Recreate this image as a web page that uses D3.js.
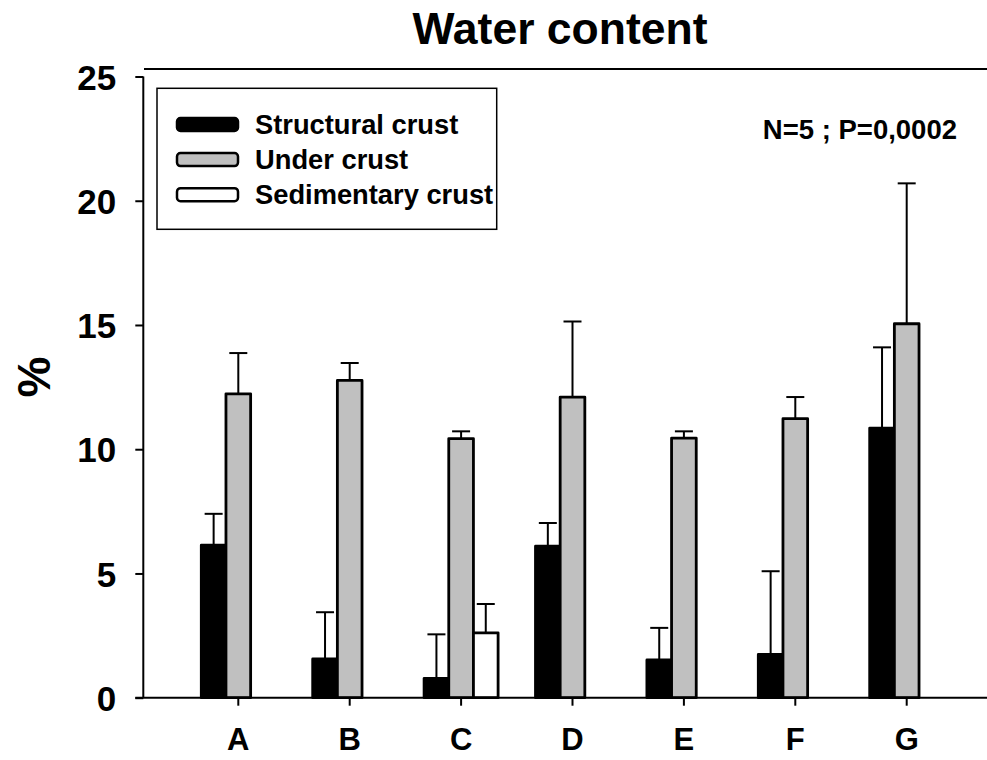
<!DOCTYPE html>
<html>
<head>
<meta charset="utf-8">
<script src="https://cdn.jsdelivr.net/npm/d3@7"></script>
<style>
  html, body { margin: 0; padding: 0; background: #fff; }
  svg text { font-family: "Liberation Sans", Arial, sans-serif; font-weight: bold; fill: #000; }
</style>
</head>
<body>
<svg id="chart" width="987" height="760"></svg>
<script>
// ---- Data ----
const categories = ["A", "B", "C", "D", "E", "F", "G"];
const seriesNames = ["Structural crust", "Under crust", "Sedimentary crust"];
const structuralCrust    = [6.14, 1.56, 0.78, 6.10, 1.52, 1.74, 10.85];
const structuralCrustErr = [7.40, 3.44, 2.55, 7.03, 2.81, 5.09, 14.10];
const underCrust         = [12.23, 12.77, 10.43, 12.10, 10.45, 11.23, 15.05];
const underCrustErr      = [13.87, 13.47, 10.72, 15.14, 10.72, 12.10, 20.70];
const sedimentaryCrust    = [null, null, 2.61, null, null, null, null];
const sedimentaryCrustErr = [null, null, 3.77, null, null, null, null];
const yTicks = [0, 5, 10, 15, 20, 25];
const seriesColors = ["#000000", "#c0c0c0", "#ffffff"];
const titleText = "Water content";
const yLabelText = "%";
const statsText = "N=5 ; P=0,0002";

const seriesValues = [structuralCrust, underCrust, sedimentaryCrust];
const seriesErrors = [structuralCrustErr, underCrustErr, sedimentaryCrustErr];

// ---- Layout ----
const svg = d3.select("#chart");
const axisLeftX = 143.3;
const y = d3.scaleLinear().domain([0, 25]).range([697.7, 76.5]);
const x = d3.scaleBand().domain(categories).range([182.6, 962.4]).padding(0);
const xs = d3.scaleBand().domain(seriesNames).range([-37, 37]).padding(0);

// Title
svg.append("text")
  .attr("x", 560).attr("y", 44)
  .attr("text-anchor", "middle")
  .style("font-size", "44.5px")
  .text(titleText);

// Top frame line
svg.append("line")
  .attr("x1", 144).attr("x2", 987)
  .attr("y1", 69).attr("y2", 69)
  .attr("stroke", "#000").attr("stroke-width", 2);

// Bars
const barData = [];
categories.forEach((c, i) => {
  seriesNames.forEach((s, j) => {
    const v = seriesValues[j][i];
    if (v != null) barData.push({ c, s, j, v, e: seriesErrors[j][i] });
  });
});

const cx = d => x(d.c) + x.bandwidth() / 2 + xs(d.s) + xs.bandwidth() / 2;
const gBars = svg.append("g");
gBars.selectAll("line.err").data(barData).enter().append("line")
  .attr("class", "err")
  .attr("x1", cx).attr("x2", cx)
  .attr("y1", d => y(d.v))
  .attr("y2", d => y(d.e))
  .attr("stroke", "#000").attr("stroke-width", 2);
gBars.selectAll("line.cap").data(barData).enter().append("line")
  .attr("class", "cap")
  .attr("x1", d => cx(d) - 9)
  .attr("x2", d => cx(d) + 9)
  .attr("y1", d => y(d.e))
  .attr("y2", d => y(d.e))
  .attr("stroke", "#000").attr("stroke-width", 2);

gBars.selectAll("rect.bar").data(barData).enter().append("rect")
  .attr("class", "bar")
  .attr("x", d => x(d.c) + x.bandwidth() / 2 + xs(d.s))
  .attr("width", xs.bandwidth())
  .attr("y", d => y(d.v))
  .attr("height", d => y(0) - y(d.v))
  .attr("fill", d => seriesColors[d.j])
  .attr("stroke", "#000")
  .attr("stroke-width", 2.8)
  .attr("stroke-linejoin", "round");

// Y axis
const yAxis = d3.axisLeft(y).tickValues(yTicks).tickSize(8).tickPadding(19).tickFormat(d3.format("d"));
const gy = svg.append("g").attr("transform", `translate(${axisLeftX},0)`).call(yAxis);
gy.select(".domain").attr("stroke-width", 2).attr("d", `M0,${y(25)}V${y(0)}`);
gy.selectAll(".tick line").attr("stroke-width", 2);
gy.selectAll(".tick text").style("font-size", "35px").style("font-family", "'Liberation Sans', Arial, sans-serif").style("font-weight", "bold").attr("dy", "0.36em");

// X axis
const xAxis = d3.axisBottom(x).tickSize(8).tickPadding(22);
const gx = svg.append("g").attr("transform", `translate(0,${y(0)})`).call(xAxis);
gx.select(".domain").attr("stroke-width", 2).attr("d", `M${axisLeftX - 8},0H987`);
gx.selectAll(".tick line").attr("stroke-width", 2);
gx.selectAll(".tick text").style("font-size", "31px").style("font-family", "'Liberation Sans', Arial, sans-serif").style("font-weight", "bold");

// Y label
svg.append("text")
  .attr("transform", "translate(50,377) rotate(-90)")
  .attr("text-anchor", "middle")
  .style("font-size", "46px")
  .text(yLabelText);

// Stats text
svg.append("text")
  .attr("x", 957).attr("y", 139)
  .attr("text-anchor", "end")
  .style("font-size", "27.5px")
  .text(statsText);

// Legend
const lg = svg.append("g");
lg.append("rect")
  .attr("x", 157).attr("y", 88.3)
  .attr("width", 339.7).attr("height", 141)
  .attr("fill", "#fff").attr("stroke", "#000").attr("stroke-width", 1.5);
const legendY = d3.scalePoint().domain(seriesNames).range([124.5, 194.7]);
lg.selectAll("rect.sw").data(seriesNames).enter().append("rect")
  .attr("class", "sw")
  .attr("x", 177).attr("y", d => legendY(d) - 6.5)
  .attr("width", 61).attr("height", 13)
  .attr("rx", 3.5).attr("ry", 3.5)
  .attr("fill", (d, i) => seriesColors[i])
  .attr("stroke", "#000").attr("stroke-width", 2.5);
lg.selectAll("text.lt").data(seriesNames).enter().append("text")
  .attr("class", "lt")
  .attr("x", 255).attr("y", d => legendY(d) + 9)
  .style("font-size", "27.3px")
  .text(d => d);
</script>
</body>
</html>
